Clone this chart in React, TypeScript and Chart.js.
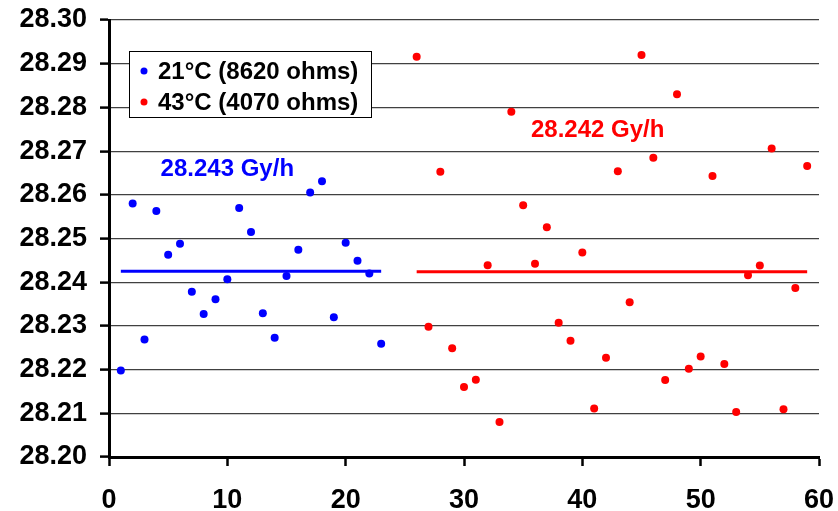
import React, { useEffect, useRef } from "react";
import { Chart, registerables } from "chart.js";

Chart.register(...registerables);

const blueX = [1, 2, 3, 4, 5, 6, 7, 8, 9, 10, 11, 12, 13, 14, 15, 16, 17, 18, 19, 20, 21, 22, 23];
const blueY = [
  28.2198, 28.258, 28.2269, 28.2563, 28.2463, 28.2488, 28.2378, 28.2327, 28.2361, 28.2407, 28.257, 28.2515,
  28.2329, 28.2273, 28.2414, 28.2474, 28.2605, 28.2631, 28.232, 28.249, 28.2449, 28.242, 28.2259,
];
const redX = [
  26, 27, 28, 29, 30, 31, 32, 33, 34, 35, 36, 37, 38, 39, 40, 41, 42, 43, 44, 45, 46, 47, 48, 49, 50, 51, 52, 53,
  54, 55, 56, 57, 58, 59,
];
const redY = [
  28.2916, 28.2298, 28.2653, 28.2249, 28.216, 28.2177, 28.2439, 28.208, 28.279, 28.2576, 28.2442, 28.2526, 28.2307,
  28.2266, 28.2468, 28.2111, 28.2227, 28.2654, 28.2354, 28.292, 28.2685, 28.2176, 28.283, 28.2202, 28.223, 28.2643,
  28.2213, 28.2103, 28.2416, 28.2438, 28.2706, 28.2109, 28.2387, 28.2666,
];
const blueMeanX = [1, 23];
const blueMean = 28.2425;
const redMeanX = [26, 59];
const redMean = 28.2424;

const seriesLabels = ["21°C (8620 ohms)", "43°C (4070 ohms)"];
const seriesColors = ["#0000ff", "#ff0000"];
const annotationTexts = ["28.243 Gy/h", "28.242 Gy/h"];
const annotationX = [10, 41.3];
const annotationY = [28.2659, 28.2748];

const xTicks = { min: 0, max: 60, step: 10 };
const yTicks = { min: 28.2, max: 28.3, step: 0.01 };

const FONT = '"Liberation Sans", Arial, sans-serif';

const overlayPlugin = {
  id: "overlay",
  afterDatasetsDraw(chart: any) {
    const ctx = chart.ctx;
    const xs = chart.scales.x;
    const ys = chart.scales.y;
    ctx.save();
    // annotations
    ctx.font = `bold 24px ${FONT}`;
    ctx.textAlign = "center";
    ctx.textBaseline = "middle";
    annotationTexts.forEach((t, i) => {
      ctx.fillStyle = seriesColors[i];
      ctx.fillText(t, xs.getPixelForValue(annotationX[i]), ys.getPixelForValue(annotationY[i]));
    });
    // legend box
    const bx = 129, by = 51, bw = 242, bh = 66;
    ctx.fillStyle = "#ffffff";
    ctx.fillRect(bx, by, bw, bh);
    ctx.strokeStyle = "#000000";
    ctx.lineWidth = 1;
    ctx.strokeRect(bx + 0.5, by + 0.5, bw, bh);
    ctx.font = `bold 24px ${FONT}`;
    ctx.textAlign = "left";
    seriesLabels.forEach((lab, i) => {
      const cy = by + 20 + i * 31;
      ctx.fillStyle = seriesColors[i];
      ctx.beginPath();
      ctx.arc(bx + 15, cy, 3.5, 0, Math.PI * 2);
      ctx.fill();
      ctx.fillStyle = "#000000";
      ctx.fillText(lab, bx + 29, cy + 1);
    });
    ctx.restore();
  },
};

export default function App() {
  const ref = useRef<HTMLCanvasElement | null>(null);
  useEffect(() => {
    if (!ref.current) return;
    const chart = new Chart(ref.current, {
      type: "scatter",
      data: {
        datasets: [
          {
            label: seriesLabels[0],
            data: blueX.map((x, i) => ({ x, y: blueY[i] })),
            backgroundColor: seriesColors[0],
            borderColor: seriesColors[0],
            pointRadius: 4,
            pointBorderWidth: 0,
          },
          {
            label: seriesLabels[1],
            data: redX.map((x, i) => ({ x, y: redY[i] })),
            backgroundColor: seriesColors[1],
            borderColor: seriesColors[1],
            pointRadius: 4,
            pointBorderWidth: 0,
          },
          {
            type: "line",
            label: "mean1",
            data: blueMeanX.map((x) => ({ x, y: blueMean })),
            borderColor: seriesColors[0],
            borderWidth: 3,
            pointRadius: 0,
            showLine: true,
          } as any,
          {
            type: "line",
            label: "mean2",
            data: redMeanX.map((x) => ({ x, y: redMean })),
            borderColor: seriesColors[1],
            borderWidth: 3,
            pointRadius: 0,
            showLine: true,
          } as any,
        ],
      },
      options: {
        responsive: false,
        animation: false,
        layout: { padding: { top: 20, right: 19, left: 0, bottom: 0 } },
        plugins: { legend: { display: false }, tooltip: { enabled: false } },
        scales: {
          x: {
            type: "linear",
            min: xTicks.min,
            max: xTicks.max,
            ticks: {
              stepSize: xTicks.step,
              color: "#000",
              font: { family: FONT, size: 27, weight: "bold" },
              padding: 18,
              maxRotation: 0,
            },
            grid: { drawOnChartArea: false, tickLength: 9, tickWidth: 2.5, tickColor: "#000" },
            border: { width: 3, color: "#000" },
            afterFit: (s: any) => {
              s.height = 54;
              s.paddingLeft = 0;
              s.paddingRight = 0;
              s.paddingTop = 0;
              s.paddingBottom = 0;
            },
          },
          y: {
            type: "linear",
            min: yTicks.min,
            max: yTicks.max,
            ticks: {
              stepSize: yTicks.step,
              color: "#000",
              font: { family: FONT, size: 27, weight: "bold" },
              padding: 13,
              callback: (v: any) => Number(v).toFixed(2),
            },
            grid: { color: "#404040", lineWidth: 1.2, tickLength: 9, tickWidth: 2.5, tickColor: "#000" },
            border: { width: 3, color: "#000" },
            afterFit: (s: any) => {
              s.width = 109;
              s.paddingLeft = 0;
              s.paddingRight = 0;
              s.paddingTop = 0;
              s.paddingBottom = 0;
            },
          },
        },
      } as any,
      plugins: [overlayPlugin],
    });
    return () => chart.destroy();
  }, []);
  return (
    <div style={{ position: "absolute", left: 0, top: 0, width: 838, height: 511, background: "#fff" }}>
      <canvas ref={ref} width={838} height={511} />
    </div>
  );
}
